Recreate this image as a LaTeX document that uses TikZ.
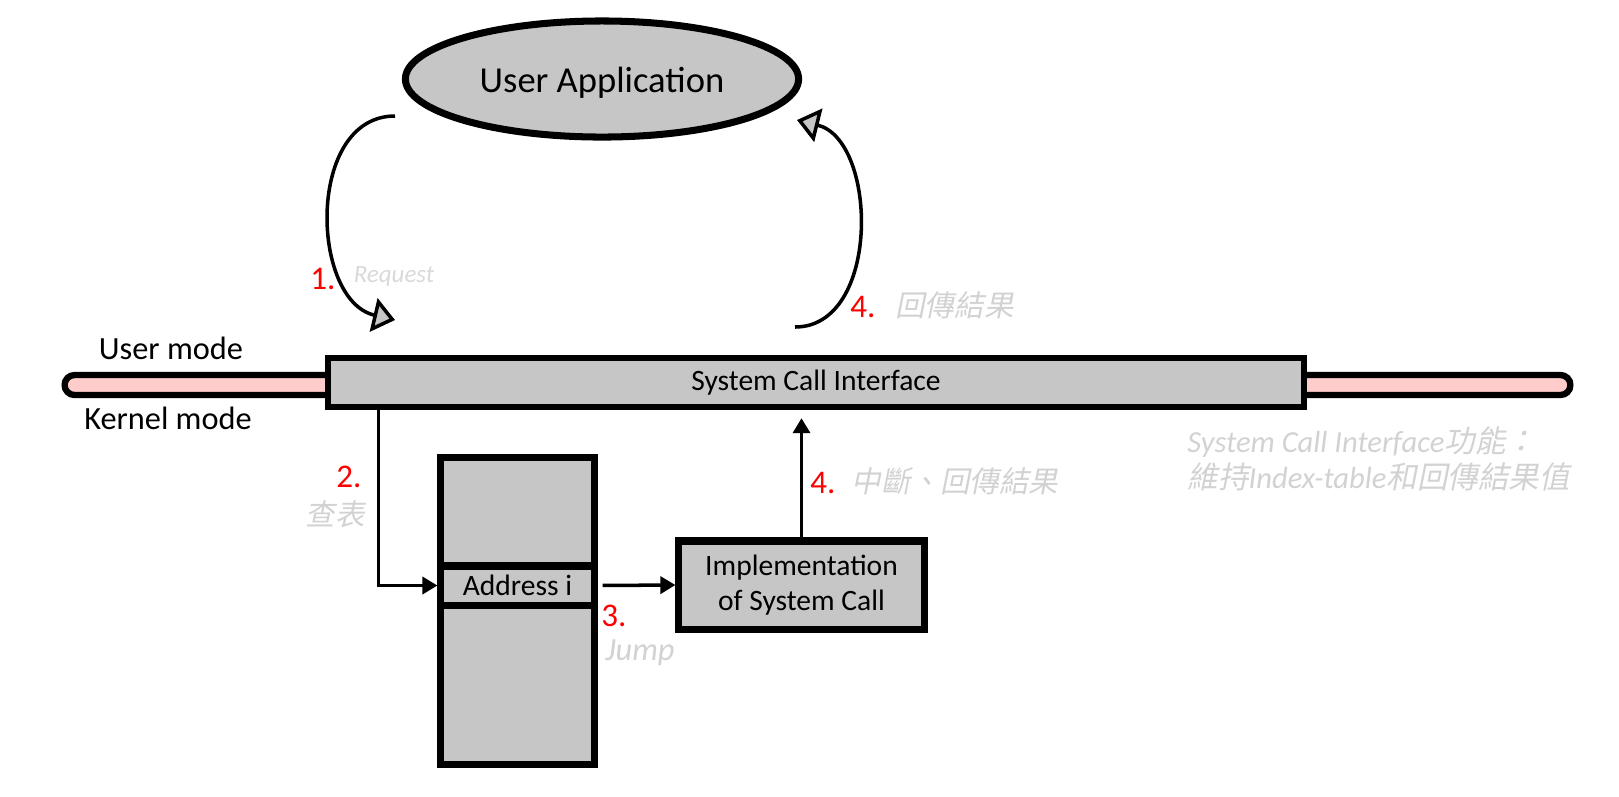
\documentclass[tikz,border=0pt]{standalone}
\usepackage{fontspec}
\setmainfont{Carlito}
\newfontfamily\cjk[FakeSlant=0.2]{Noto Sans CJK TC}
\usetikzlibrary{arrows.meta, shapes.geometric}
\definecolor{cfill}{HTML}{C6C6C6}
\definecolor{crail}{HTML}{FFCCCC}
\definecolor{cred}{HTML}{FF0000}
\definecolor{chint}{HTML}{D2D2D2}
\tikzset{
  box/.style={draw, fill=cfill, line width=2pt, inner sep=0pt, align=center, font=\fontsize{8.4}{10}\selectfont},
  link/.style={-{Triangle[length=0.15cm, width=0.17cm]}, line width=1pt},
  swing/.style={-{Triangle[length=0.22cm, width=0.34cm, fill=cfill]}, line width=1pt},
  num/.style={text=cred, font=\fontsize{9.4}{10}\selectfont},
  hint/.style={text=chint, font=\fontsize{8.4}{10}\selectfont\itshape},
  mode/.style={font=\fontsize{9.2}{11}\selectfont},
}
\begin{document}
\begin{tikzpicture}[x=0.01cm, y=-0.01cm]
  \useasboundingbox (0,0) rectangle (1619,796);
  % user side
  \node[ellipse, draw, fill=cfill, line width=2pt, minimum width=3.93cm, minimum height=1.16cm, text height=0.3cm, text depth=0.04cm, font=\fontsize{10.4}{12}\selectfont] (app) at (602,79) {User Application};
  % mode boundary
  \node[draw, fill=crail, line width=1.8pt, rounded corners=0.1cm, minimum width=15.05cm, minimum height=0.2cm, inner sep=0pt] (rail) at (817.5,385) {};
  \node[box, line width=1.8pt, minimum width=9.76cm, minimum height=0.49cm] (sci) at (816,382.5) {System Call Interface};
  \node[mode] (umode) at (171,348) {User mode};
  \node[mode] (kmode) at (168,418) {Kernel mode};
  % kernel side
  \node[box, minimum width=1.53cm, minimum height=3.06cm] (table) at (517.5,611) {};
  \node[box, minimum width=1.53cm, minimum height=0.39cm] (addr) at (517.5,585.5) {Address i};
  \node[box, minimum width=2.45cm, minimum height=0.88cm] (impl) at (801.5,585) {Implementation\\of System Call};
  % request and return loops
  \coordinate (reqS) at (395,116);
  \coordinate (reqE) at (395,320);
  \coordinate (retS) at (795,327);
  \coordinate (retE) at (797,120);
  \draw[swing] (reqS) .. controls (306,116) and (310,300) .. (reqE);
  \draw[swing] (retS) .. controls (881,327) and (878,140) .. (retE);
  % kernel flow
  \draw[link] ([xshift=0.54cm]sci.south west) |- (addr.west);
  \draw[link, shorten <=0.05cm] (addr.east) -- (impl.west);
  \draw[link] (impl.north) -- ([yshift=-0.08cm]impl.north |- sci.south);
  % step labels
  \node[num] (n1) at (323,279) {1.};
  \node[hint, text=chint!85, font=\fontsize{7.1}{8}\selectfont\itshape] (t1) at (394,276) {Request};
  \node[num] (n2) at (349,477) {2.};
  \node[hint] (t2) at (335,514) {\cjk 查表};
  \node[num] (n3) at (614,616) {3.};
  \node[hint, font=\fontsize{9.2}{10}\selectfont\itshape] (t3) at (640,653) {Jump};
  \node[num] (n4) at (823,483) {4.};
  \node[hint] (t4) at (955,481) {\cjk 中斷、回傳結果};
  \node[num] (n5) at (863,307) {4.};
  \node[hint, anchor=west] (t5) at (883,305) {\cjk 回傳結果};
  % side note
  \node[hint, align=left, anchor=west, font=\fontsize{8.7}{10.2}\selectfont\itshape] (note) at (1175,459) {System Call Interface{\cjk 功能：}\\{\cjk 維持}Index-table{\cjk 和回傳結果值}};
\end{tikzpicture}
\end{document}
